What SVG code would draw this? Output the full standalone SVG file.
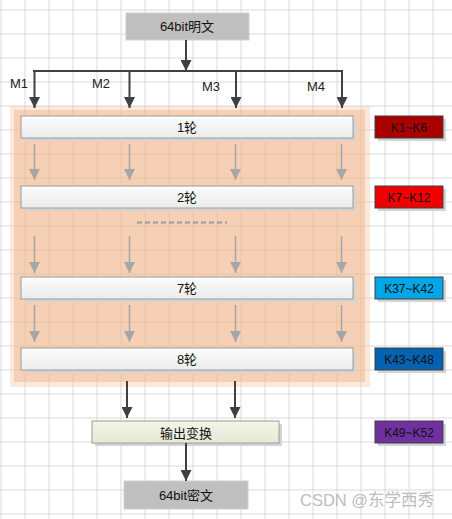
<svg xmlns="http://www.w3.org/2000/svg" width="452" height="519" viewBox="0 0 452 519">
<defs>
<style>
.grid line{stroke:#d9d9d9;stroke-width:1}
.t{font-family:"Liberation Sans","Noto Sans CJK SC",sans-serif;font-size:13px;fill:#111;text-anchor:middle}
.k{font-family:"Liberation Sans","Noto Sans CJK SC",sans-serif;font-size:12px;fill:#111;text-anchor:middle}
.m{font-family:"Liberation Sans",sans-serif;font-size:13px;fill:#222}
.round{fill:url(#rg);stroke:#9c9c9c;stroke-width:1}
.shadow{fill:#d4d4d4}
.key{stroke:#404040;stroke-width:1}
.dark{stroke:#404040;stroke-width:2;fill:none}
.gray{stroke:#a6a6a6;stroke-width:1.5;fill:none}
</style>
<linearGradient id="rg" x1="0" y1="0" x2="0" y2="1">
<stop offset="0" stop-color="#fcfcfc"/>
<stop offset="1" stop-color="#ebebeb"/>
</linearGradient>
<linearGradient id="og" x1="0" y1="0" x2="0" y2="1">
<stop offset="0" stop-color="#f3f5e6"/>
<stop offset="1" stop-color="#e6e9d4"/>
</linearGradient>
<marker id="ad" viewBox="0 0 10 10" refX="10" refY="5" markerWidth="11" markerHeight="11" markerUnits="userSpaceOnUse" orient="auto">
<path d="M0,0 L10,5 L0,10 z" fill="#404040"/>
</marker>
<marker id="ag" viewBox="0 0 10 10" refX="10" refY="5" markerWidth="11" markerHeight="11" markerUnits="userSpaceOnUse" orient="auto">
<path d="M0,0 L10,5 L0,10 z" fill="#a6a6a6"/>
</marker>
</defs>
<rect width="452" height="519" fill="#ffffff"/>
<g class="grid">
<line x1="1" y1="0" x2="1" y2="519"/><line x1="25" y1="0" x2="25" y2="519"/><line x1="49" y1="0" x2="49" y2="519"/><line x1="73" y1="0" x2="73" y2="519"/><line x1="97" y1="0" x2="97" y2="519"/><line x1="121" y1="0" x2="121" y2="519"/><line x1="145" y1="0" x2="145" y2="519"/><line x1="169" y1="0" x2="169" y2="519"/><line x1="193" y1="0" x2="193" y2="519"/><line x1="217" y1="0" x2="217" y2="519"/><line x1="241" y1="0" x2="241" y2="519"/><line x1="265" y1="0" x2="265" y2="519"/><line x1="289" y1="0" x2="289" y2="519"/><line x1="313" y1="0" x2="313" y2="519"/><line x1="337" y1="0" x2="337" y2="519"/><line x1="361" y1="0" x2="361" y2="519"/><line x1="385" y1="0" x2="385" y2="519"/><line x1="409" y1="0" x2="409" y2="519"/><line x1="433" y1="0" x2="433" y2="519"/>
<line x1="0" y1="10" x2="452" y2="10"/><line x1="0" y1="34" x2="452" y2="34"/><line x1="0" y1="58" x2="452" y2="58"/><line x1="0" y1="82" x2="452" y2="82"/><line x1="0" y1="106" x2="452" y2="106"/><line x1="0" y1="130" x2="452" y2="130"/><line x1="0" y1="154" x2="452" y2="154"/><line x1="0" y1="178" x2="452" y2="178"/><line x1="0" y1="202" x2="452" y2="202"/><line x1="0" y1="226" x2="452" y2="226"/><line x1="0" y1="250" x2="452" y2="250"/><line x1="0" y1="274" x2="452" y2="274"/><line x1="0" y1="298" x2="452" y2="298"/><line x1="0" y1="322" x2="452" y2="322"/><line x1="0" y1="346" x2="452" y2="346"/><line x1="0" y1="370" x2="452" y2="370"/><line x1="0" y1="394" x2="452" y2="394"/><line x1="0" y1="418" x2="452" y2="418"/><line x1="0" y1="442" x2="452" y2="442"/><line x1="0" y1="466" x2="452" y2="466"/><line x1="0" y1="490" x2="452" y2="490"/><line x1="0" y1="514" x2="452" y2="514"/>
</g>
<g id="rounds-bg">
<rect x="10" y="106" width="360" height="281" fill="#f2b78c" opacity="0.3"/>
<rect x="14" y="110" width="351" height="272" fill="#f2b78c" opacity="0.5"/>
</g>
<g id="plain">
<rect x="126" y="13" width="123" height="27" fill="#bfbfbf" stroke="#d0d0d0"/>
<text class="t" x="187" y="31">64bit明文</text>
</g>
<g id="labels">
<text class="m" x="10" y="88">M1</text>
<text class="m" x="92" y="88">M2</text>
<text class="m" x="202" y="91">M3</text>
<text class="m" x="307" y="91">M4</text>
</g>
<g id="round1">
<rect class="shadow" x="24" y="119" width="332" height="22"/>
<rect class="round" x="21" y="116" width="332" height="22"/>
<text class="t" x="187" y="132">1轮</text>
</g>
<g id="round2">
<rect class="shadow" x="24" y="189" width="332" height="22"/>
<rect class="round" x="21" y="186" width="332" height="22"/>
<text class="t" x="187" y="202">2轮</text>
</g>
<g id="round7">
<rect class="shadow" x="24" y="280" width="332" height="22"/>
<rect class="round" x="21" y="277" width="332" height="22"/>
<text class="t" x="187" y="293">7轮</text>
</g>
<g id="round8">
<rect class="shadow" x="24" y="351" width="332" height="22"/>
<rect class="round" x="21" y="348" width="332" height="22"/>
<text class="t" x="187" y="364">8轮</text>
</g>
<g id="output">
<rect class="shadow" x="95" y="424" width="187" height="22"/>
<rect x="92" y="421" width="187" height="22" fill="url(#og)" stroke="#9c9c9c"/>
<text class="t" x="186" y="438">输出变换</text>
</g>
<g id="cipher">
<rect x="124" y="481" width="124" height="28" fill="#bfbfbf" stroke="#d0d0d0"/>
<text class="t" x="186" y="500">64bit密文</text>
</g>
<g id="key1">
<rect class="shadow" x="378" y="119" width="68" height="22"/>
<rect class="key" x="375" y="116" width="68" height="22" fill="#aa0000"/>
<text class="k" x="409" y="132">K1~K6</text>
</g>
<g id="key2">
<rect class="shadow" x="378" y="189" width="68" height="22"/>
<rect class="key" x="375" y="186" width="68" height="22" fill="#f00000"/>
<text class="k" x="409" y="202">K7~K12</text>
</g>
<g id="key7">
<rect class="shadow" x="378" y="280" width="68" height="22"/>
<rect class="key" x="375" y="277" width="68" height="22" fill="#00a6e6"/>
<text class="k" x="409" y="293">K37~K42</text>
</g>
<g id="key8">
<rect class="shadow" x="378" y="351" width="68" height="22"/>
<rect class="key" x="375" y="348" width="68" height="22" fill="#0562b0"/>
<text class="k" x="409" y="364">K43~K48</text>
</g>
<g id="key9">
<rect class="shadow" x="378" y="424" width="68" height="22"/>
<rect class="key" x="375" y="421" width="68" height="22" fill="#7030a0"/>
<text class="k" x="409" y="437">K49~K52</text>
</g>
<g id="connectors">
<line class="dark" x1="186" y1="40" x2="186" y2="71" marker-end="url(#ad)"/>
<polyline class="dark" points="33,71 342,71 342,72"/>
<line class="dark" x1="34.5" y1="71" x2="34.5" y2="108" marker-end="url(#ad)"/>
<line class="dark" x1="129.5" y1="71" x2="129.5" y2="108" marker-end="url(#ad)"/>
<line class="dark" x1="236" y1="71" x2="236" y2="108" marker-end="url(#ad)"/>
<line class="dark" x1="342" y1="71" x2="342" y2="108" marker-end="url(#ad)"/>
<line class="gray" x1="34.5" y1="144" x2="34.5" y2="180" marker-end="url(#ag)"/>
<line class="gray" x1="129.5" y1="144" x2="129.5" y2="180" marker-end="url(#ag)"/>
<line class="gray" x1="235.5" y1="144" x2="235.5" y2="180" marker-end="url(#ag)"/>
<line class="gray" x1="341.5" y1="144" x2="341.5" y2="180" marker-end="url(#ag)"/>
<line x1="137" y1="222.5" x2="227" y2="222.5" stroke="#a6a6a6" stroke-width="2.5" stroke-dasharray="5,3"/>
<line class="gray" x1="34.5" y1="236" x2="34.5" y2="273" marker-end="url(#ag)"/>
<line class="gray" x1="129.5" y1="236" x2="129.5" y2="273" marker-end="url(#ag)"/>
<line class="gray" x1="235.5" y1="236" x2="235.5" y2="273" marker-end="url(#ag)"/>
<line class="gray" x1="341.5" y1="236" x2="341.5" y2="273" marker-end="url(#ag)"/>
<line class="gray" x1="34.5" y1="305" x2="34.5" y2="342" marker-end="url(#ag)"/>
<line class="gray" x1="129.5" y1="305" x2="129.5" y2="342" marker-end="url(#ag)"/>
<line class="gray" x1="235.5" y1="305" x2="235.5" y2="342" marker-end="url(#ag)"/>
<line class="gray" x1="341.5" y1="305" x2="341.5" y2="342" marker-end="url(#ag)"/>
<line class="dark" x1="127" y1="381" x2="127" y2="418" marker-end="url(#ad)"/>
<line class="dark" x1="235" y1="381" x2="235" y2="418" marker-end="url(#ad)"/>
<line class="dark" x1="186" y1="443" x2="186" y2="481" marker-end="url(#ad)"/>
</g>
<text x="300" y="506" font-family="'Liberation Sans','Noto Sans CJK SC',sans-serif" font-size="16.5" fill="#bdbdbd">CSDN @东学西秀</text>
</svg>
